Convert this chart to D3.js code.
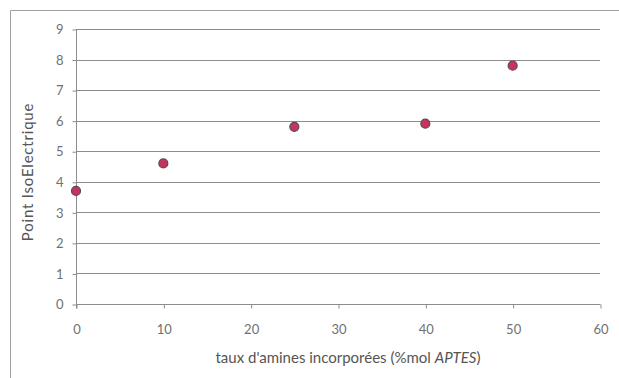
<!DOCTYPE html>
<html><head><meta charset="utf-8">
<script src="https://cdn.jsdelivr.net/npm/d3@7"></script>
<style>
body{margin:0;background:#fff;}
svg{display:block;font-family:Lato,"Open Sans",sans-serif;}
</style></head>
<body>
<svg id="c" width="619" height="378"></svg>
<script>
const xValues = [0, 10, 25, 40, 50];
const yValues = [3.7, 4.6, 5.8, 5.9, 7.8];
const xTicks = [0, 10, 20, 30, 40, 50, 60];
const yTicks = [0, 1, 2, 3, 4, 5, 6, 7, 8, 9];
const xTitle = "taux d'amines incorporées (%mol ";
const xTitleItalic = "APTES";
const yTitle = "Point IsoElectrique";

const svg = d3.select("#c");
// outer frame (top and left only)
svg.append("line").attr("x1",10.5).attr("x2",619).attr("y1",10.5).attr("y2",10.5).attr("stroke","#a0a0a0");
svg.append("line").attr("x1",10.5).attr("x2",10.5).attr("y1",10.5).attr("y2",378).attr("stroke","#a0a0a0");

const x = d3.scaleLinear().domain([0,60]).range([76,600]);
const y = d3.scaleLinear().domain([0,9]).range([304,29]);

// gridlines
svg.append("g").selectAll("line").data(yTicks.filter(d=>d>0)).join("line")
  .attr("x1",x(0)).attr("x2",x(60))
  .attr("y1",d=>Math.round(y(d))+0.5).attr("y2",d=>Math.round(y(d))+0.5)
  .attr("stroke","#8c8c8c").attr("stroke-width",1);

// y axis
const ya = svg.append("g").attr("transform",`translate(${x(0)+0.5},0.5)`)
  .call(d3.axisLeft(y).tickValues(yTicks).tickSize(4).tickPadding(9).tickFormat(d3.format("d")));
ya.select(".domain").attr("stroke","#8c8c8c").attr("d",`M-0,${y(9)}V${y(0)+4}`);
ya.selectAll(".tick line").attr("stroke","#8c8c8c");
ya.selectAll(".tick text").attr("fill","#707070").style("font-size","13px").style("font-family","Lato,'Open Sans',sans-serif");

// x axis
const xa = svg.append("g").attr("transform",`translate(0.5,${Math.round(y(0))+0.5})`)
  .call(d3.axisBottom(x).tickValues(xTicks).tickSize(4).tickPadding(16).tickFormat(d3.format("d")));
xa.select(".domain").attr("stroke","#8c8c8c").attr("d",`M${x(0)-0},0H${x(60)}`);
xa.selectAll(".tick line").attr("stroke","#8c8c8c");
xa.selectAll(".tick text").attr("fill","#707070").style("font-size","13px").style("font-family","Lato,'Open Sans',sans-serif");

// points
svg.append("g").selectAll("circle").data(xValues.map((v,i)=>[v,yValues[i]])).join("circle")
  .attr("cx",d=>x(d[0])).attr("cy",d=>y(d[1])).attr("r",4.5)
  .attr("fill","#c8325e").attr("stroke","#5a4a50").attr("stroke-width",1.2);

// titles
const xt = svg.append("text").attr("x",348).attr("y",363).attr("text-anchor","middle")
  .attr("fill","#555").style("font-size","15px");
xt.append("tspan").text(xTitle);
xt.append("tspan").attr("font-style","italic").text(xTitleItalic);
xt.append("tspan").text(")");

svg.append("text").attr("transform","translate(33,172) rotate(-90)").attr("text-anchor","middle")
  .attr("fill","#555").style("font-size","15px").style("letter-spacing","0.8px").text(yTitle);
</script>
</body></html>
